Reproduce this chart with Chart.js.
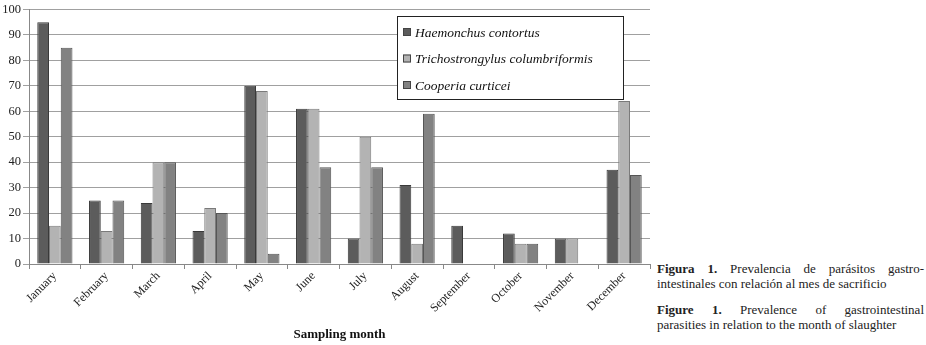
<!DOCTYPE html>
<html>
<head>
<meta charset="utf-8">
<script src="https://cdn.jsdelivr.net/npm/chart.js@4/dist/chart.umd.min.js"></script>
<style>
    body { margin: 0; background: #fff; }
    #wrap { position: relative; width: 926px; height: 345px; }
    #chartBox { position: absolute; left: 0; top: 0; width: 655px; height: 345px; }
    .caption {
        position: absolute; left: 657px; width: 267px;
        font-family: 'Liberation Serif', serif; font-size: 13px; line-height: 14.5px; color: #222;
    }
    .caption span { display: block; text-align: justify; text-align-last: justify; white-space: nowrap; }
    .caption span.last { text-align-last: left; }
</style>
</head>
<body>
<div id="wrap">
    <div id="chartBox"><canvas id="parasiteChart" width="655" height="345"></canvas></div>
    <div class="caption" style="top: 262px;">
        <span><b>Figura 1.</b> Prevalencia de parásitos gastro-</span>
        <span class="last">intestinales con relación al mes de sacrificio</span>
    </div>
    <div class="caption" style="top: 303px;">
        <span><b>Figure 1.</b> Prevalence of gastrointestinal</span>
        <span class="last">parasities in relation to the month of slaughter</span>
    </div>
</div>
<script>
const months = ['January', 'February', 'March', 'April', 'May', 'June', 'July', 'August', 'September', 'October', 'November', 'December'];
const haemonchus = [95, 25, 24, 13, 70, 61, 10, 31, 15, 12, 10, 37];
const trichostrongylus = [15, 13, 40, 22, 68, 61, 50, 8, 0, 8, 10, 64];
const cooperia = [85, 25, 40, 20, 4, 38, 38, 59, 0, 8, 0, 35];
const yTicks = [0, 10, 20, 30, 40, 50, 60, 70, 80, 90, 100];

const serif = "'Liberation Serif', serif";

// legend box drawn inside the plot, over the gridlines
const boxLegend = {
    id: 'boxLegend',
    afterDatasetsDraw(chart) {
        const ctx = chart.ctx;
        const x = 397, y = 16, w = 226, h = 83;
        ctx.save();
        ctx.fillStyle = '#fff';
        ctx.fillRect(x, y, w, h);
        ctx.strokeStyle = '#222';
        ctx.lineWidth = 1;
        ctx.strokeRect(x + 0.5, y + 0.5, w, h);
        ctx.font = 'italic 13.5px ' + serif;
        ctx.textBaseline = 'middle';
        chart.data.datasets.forEach((ds, i) => {
            const cy = y + 16 + i * 26.5;
            ctx.fillStyle = ds.backgroundColor;
            ctx.fillRect(x + 6, cy - 4, 8, 8);
            ctx.strokeStyle = '#444';
            ctx.strokeRect(x + 6.5, cy - 3.5, 7, 7);
            ctx.fillStyle = '#111';
            ctx.fillText(ds.label, x + 18, cy + 1);
        });
        ctx.restore();
    }
};

function drawChart() {
    const ctx = document.getElementById('parasiteChart').getContext('2d');
    new Chart(ctx, {
        type: 'bar',
        data: {
            labels: months,
            datasets: [
                { label: 'Haemonchus contortus', data: haemonchus, backgroundColor: '#5c5c5c', borderColor: '#3a3a3a', borderWidth: 1 },
                { label: 'Trichostrongylus columbriformis', data: trichostrongylus, backgroundColor: '#b3b3b3', borderColor: '#7a7a7a', borderWidth: 1 },
                { label: 'Cooperia curticei', data: cooperia, backgroundColor: '#828282', borderColor: '#555', borderWidth: 1 }
            ]
        },
        options: {
            responsive: false,
            animation: false,
            categoryPercentage: 0.68,
            barPercentage: 1,
            layout: { padding: { top: 8, right: 5, left: 0, bottom: 0 } },
            plugins: {
                legend: { display: false },
                tooltip: { enabled: false }
            },
            scales: {
                x: {
                    grid: { drawOnChartArea: false, offset: true, tickLength: 5, color: '#888' },
                    border: { color: '#888' },
                    ticks: {
                        color: '#222',
                        maxRotation: 45,
                        minRotation: 45,
                        padding: 0,
                        font: { family: serif, size: 12 }
                    },
                    title: {
                        display: true,
                        text: 'Sampling month',
                        color: '#111',
                        font: { family: serif, size: 13, weight: 'bold' },
                        padding: { top: 0, bottom: 3 }
                    },
                    afterFit: (scale) => { scale.height = 81; }
                },
                y: {
                    min: 0,
                    max: 100,
                    afterBuildTicks: (scale) => { scale.ticks = yTicks.map(v => ({ value: v })); },
                    grid: { color: '#a0a0a0', tickLength: 6 },
                    border: { color: '#888' },
                    ticks: {
                        color: '#222',
                        padding: 2,
                        font: { family: serif, size: 12.5 }
                    },
                    afterFit: (scale) => { scale.width = 29; }
                }
            }
        },
        plugins: [boxLegend]
    });
}

// canvas text does not trigger font loading, so load the faces first
Promise.all([
    document.fonts.load("12px 'Liberation Serif'"),
    document.fonts.load("italic 12px 'Liberation Serif'"),
    document.fonts.load("bold 12px 'Liberation Serif'")
]).then(drawChart, drawChart);
</script>
</body>
</html>
